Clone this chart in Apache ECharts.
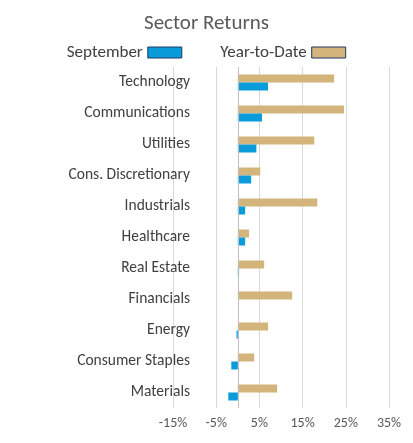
<!DOCTYPE html><html><head><meta charset="utf-8"><script src="https://cdn.jsdelivr.net/npm/echarts@6/dist/echarts.min.js"></script></head><body style="margin:0"><div id="c" style="width:413px;height:443px"></div><script>
var categories=["Technology","Communications","Utilities","Cons. Discretionary","Industrials","Healthcare","Real Estate","Financials","Energy","Consumer Staples","Materials"];
var september=[7.0,5.6,4.3,3.1,1.7,1.7,0.3,0.0,-0.3,-1.5,-2.2];
var ytd=[22.3,24.6,17.7,5.2,18.4,2.6,6.1,12.6,7.0,3.8,9.1];
var c=echarts.init(document.getElementById('c'));
var F='Calibri, Carlito, "Liberation Sans", sans-serif';
c.setOption({animation:false,
title:{text:'Sector Returns',left:'center',top:8,textStyle:{fontFamily:F,fontSize:21,fontWeight:'normal',color:'#595959'}},
legend:{top:39,left:'center',align:'right',icon:'rect',itemGap:38,itemWidth:34,itemHeight:11,itemStyle:{borderColor:'#1F3864',borderWidth:1},textStyle:{fontFamily:F,fontSize:17,color:'#404040'},data:['September','Year-to-Date']},
grid:{left:173,right:24,top:67,bottom:35},
xAxis:{type:'value',min:-15,max:35,interval:10,axisLabel:{formatter:'{value}%',fontFamily:F,fontSize:14,color:'#595959'},splitLine:{lineStyle:{color:'#d9d9d9'}},axisLine:{show:false},axisTick:{show:false}},
yAxis:{type:'category',inverse:true,data:categories,axisLine:{show:false},axisTick:{show:false},axisLabel:{margin:-17,fontFamily:F,fontSize:15.5,color:'#404040'}},
series:[
{name:'Year-to-Date',type:'bar',data:ytd,barWidth:8,barGap:'0%',itemStyle:{color:'#D3B57B'},
 markLine:{silent:true,symbol:'none',label:{show:false},lineStyle:{color:'#bfbfbf',type:'solid',width:1},data:[{xAxis:0}]}},
{name:'September',type:'bar',data:september,barWidth:8,itemStyle:{color:'#0A9BDB'}}
]});
</script></body></html>
